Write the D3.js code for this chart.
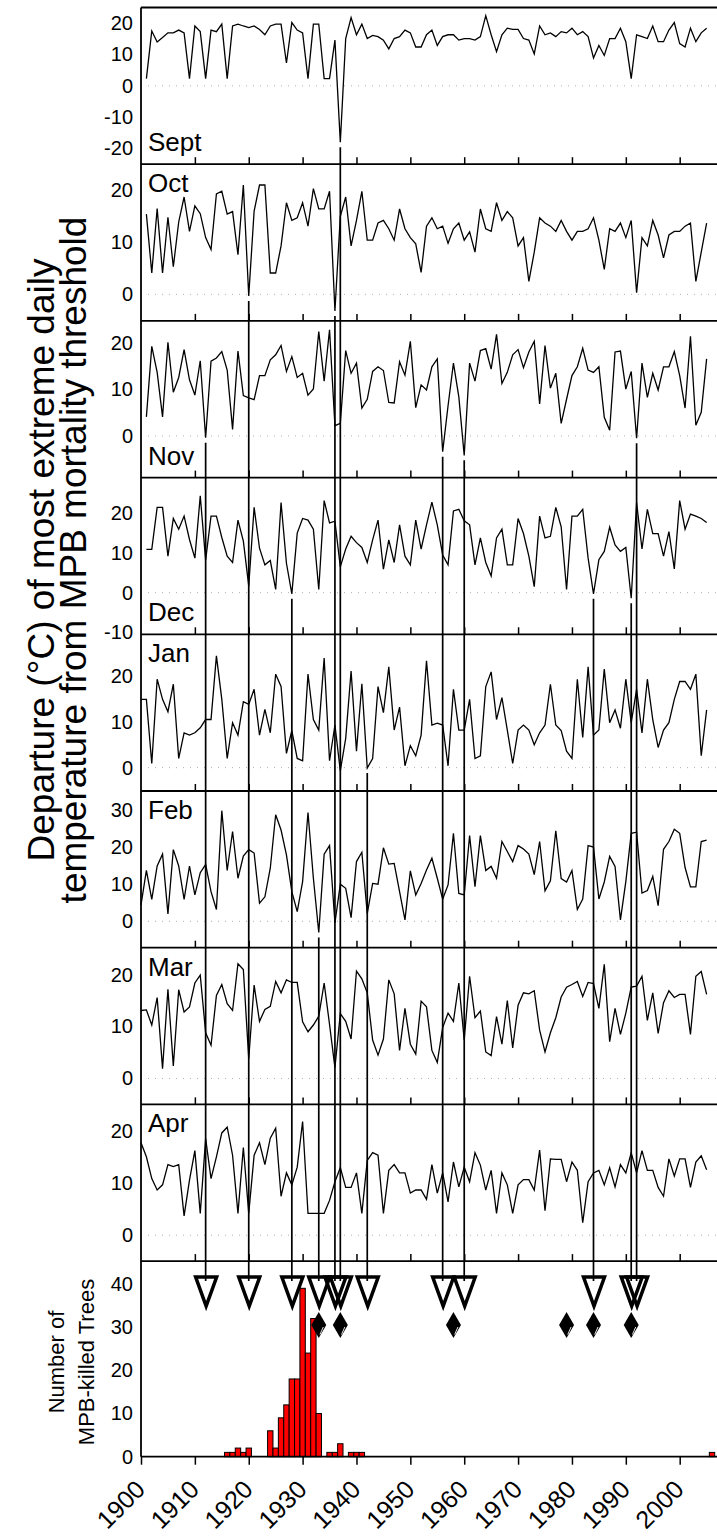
<!DOCTYPE html>
<html>
<head>
<meta charset="utf-8">
<script src="https://cdn.jsdelivr.net/npm/d3@7"></script>
<style>
  body { margin: 0; background: #fff; }
  text { font-family: "Liberation Sans", Arial, sans-serif; fill: #000; }
</style>
</head>
<body>
<div id="chart"></div>
<script>
// Monthly departures (deg C) of the most extreme daily temperature from the MPB mortality threshold
// Sept-Dec run 1901-2005, Jan-Apr run 1900-2005
const sept = [2.3,17.5,14,15.4,16.9,16.9,17.8,16.9,2.3,19.1, 17.3,2.3,17.8,17.3,19.7,2.3,19.1,19.7,19.1,18.6,
  19.1,18,16.3,19.1,19.7,19.7,7.3,20.2,17.8,16.9, 2.3,19.7,19.7,2.3,2.3,14.6,-18,15.1,21.8,16.3,
  19.7,15.1,16.1,15.7,14.6,11.8,15.1,15.7,17.8,16.9, 12.4,12.4,16.3,17.8,12.9,15.7,16.3,16.3,14.6,15.1,
  15.1,14.6,15.7,22.4,16.3,10.9,16.3,18.4,18,18, 15.1,14.6,10.2,19.1,16.3,16.9,15.7,17.3,16.9,18.4,
  16.3,17.3,15.7,8.9,12.9,9.7,15.1,15.1,18.4,14.1, 2.3,16.3,15.7,15.1,19.1,14.1,14.1,17.8,20.2,13.5,
  12.4,18.4,14.1,16.9,18.4];
const oct = [15.4,4.1,16.5,4.1,14.8,5.3,13.9,18.7,12.1,17, 15.5,10.9,8.6,19.3,19.8,15.4,15.9,7.6,21,-0.3,
  16,21,21,4.1,4.1,9.3,17.6,14.2,14.7,17.6, 13.1,20.3,16.4,16.4,19.8,-3.2,15,18.7,9.3,14.2,
  19.8,10.4,10.4,13.7,14.2,12.6,10.4,16.4,12.6,10.9, 9.7,4.2,13.1,14.7,12.6,13.1,9.8,12.6,13.7,10.4,
  12,8.1,16.4,12.6,12.1,17.6,14.2,15.9,14.7,9.3, 10.9,2.5,8.1,14.7,13.7,13.1,12.1,14.2,12.1,10.4,
  12.1,12.1,12.6,14.7,10.4,4.8,12.6,12.1,13.7,10.9, 14.2,0.3,10.9,9.3,14.2,11.4,7,11.4,12.1,12.1,
  13.1,13.7,2.5,8.1,13.7];
const nov = [4.1,19.3,13.7,4.1,20.2,9.4,12.6,18.6,12.1,8.8, 16.2,-0.4,16.1,16.8,18.2,14.2,1.4,18.3,8.7,8.2,
  7.8,13,13,16.4,17.5,19.5,13.9,17.1,12.6,13.5, 8.8,10.1,22.5,11.8,22.9,2.2,2.7,18.4,13.5,15.7,
  6,7.9,13.9,14.9,14.1,7.2,7.1,16,13.1,20.4, 6.1,11,9.9,14.9,16.6,-3.4,6.5,15.7,8.4,-4.2,
  15.7,11.8,18.4,18.8,14.4,21.9,11.3,13.7,17.5,18.6, 14.7,18.1,20.4,6.9,19.5,10.3,13.5,2.7,7.9,13,
  14.9,18.9,14.2,13.7,14.9,4,1.2,18.1,18.3,10.1, 13.9,-0.5,15.7,8.3,13.5,9.9,14.9,14.9,18.2,13,
  6,21.5,2.3,5.1,16.6];
const dec = [10.9,10.9,21.5,21.5,9.2,18.7,16,19.3,13.4,8.7, 24.4,8.2,19.3,19.3,13.9,9.2,7.6,18.3,13,1.7,
  21.5,11.2,7,8.1,0.8,22.7,7.4,-0.3,15,18.7, 18.3,16,0.8,23.2,17.6,18,6.5,11,14.2,12.6,
  11.4,7.6,13.3,18.3,5.9,13.3,7.6,17.1,9.2,7, 18.3,11,17.1,22.8,17.1,9.5,7,20.6,21,18.1,
  17.1,7,13.8,7.6,4.2,13.8,16,7,7,18.7, 14.9,9.2,1.5,19.3,13.8,14.2,21.5,16.6,0.8,19.3,
  19.3,21,8.7,-0.3,8.3,10.4,16.5,12,10.4,11.4, -1.4,22.7,11,21,14.9,14.9,9.2,15.4,6,23.2,
  16,19.8,19.3,18.7,17.7];
const jan = [14.9,14.9,0.9,19.3,14.9,12.2,18.2,2,7.6,7.1, 7.6,8.7,10.5,10.5,24.4,14.9,2,9.8,7.1,14.4,
  13.8,17.1,7.1,12.7,7.6,20.4,17.7,3.1,8.1,2, 1.5,20.4,10.5,8.2,23.9,1.5,9.3,-0.7,6.4,21.1,
  3.6,18.3,-0.1,2,17.7,12,22,8.2,13.2,0.4, 4.8,2.6,7.1,23.3,9.3,9.7,9.3,0.4,17.1,8.2,
  8.2,14.9,2,2.6,17.7,20.9,10.5,15.3,8.2,0.9, 8.2,9.3,8.2,5,7.6,9.3,18.2,9.3,8.1,3.6,
  2,19.3,6.6,22,7.1,8.2,21.5,9.8,12.6,8.6, 19.3,9.8,17.1,7.6,19.3,10.5,4.4,8.2,9.8,14.9,
  18.8,18.8,17.1,20.4,2.6,12.6];
const feb = [4.4,13.7,5.9,14.9,18.1,2,19.3,14.9,5.9,14.9, 7.1,13.1,15.3,8,3.2,29.8,13.7,24.2,11.6,17.6,
  19.3,18.4,4.9,6.6,14.3,28.7,24.6,17.9,8,2.6, 10.7,29.3,11.6,-3,18.1,20.4,-0.4,10,8.9,1,
  16.1,18.6,2.1,10.2,10,19.8,15.4,15.6,8,0.4, 13.6,7.1,10.2,13.8,17,11.6,6,9.8,23.7,7.5,
  7.1,23.1,9.3,23.1,13.7,14.8,11.6,21.5,18.8,16.1, 20.4,19.5,18.1,12.6,21.5,8.2,10.9,24.4,11.5,10.6,
  13.7,3.2,6,20.4,20,6,10.6,17.5,14.8,0.4, 10.7,23.7,24,7.6,8.3,12.1,4.2,19.4,21.5,24.8,
  23.7,14.5,9.3,9.3,21.5,21.9];
const mar = [13.1,13.2,10.3,15.6,1.9,17.2,2.4,17.1,12.8,13.8, 18.4,19.9,8.8,6.4,16,18.1,14.4,13.1,22.1,21,
  3.8,18,11,13.3,13.9,18.7,16.5,19,18.5,18.5, 10.9,9,10.3,12,18.4,10.4,2.1,12.5,11,7.6,
  20.7,19.2,16.5,7.4,4.5,7.6,19,16.3,5.4,13.5, 6.6,4.7,14.9,13.8,5.4,3.1,9.8,12.6,11,18.4,
  7.4,19.7,11.7,13,5.1,4.4,11.9,6.6,15,5.9, 14.1,16.5,16.3,16.9,9.3,5.1,8.8,11.7,15.7,17.6,
  18.1,18.7,15.8,18.5,18.3,13.5,22,7.1,13.5,8.5, 12.6,17.6,17.8,19.7,11.2,16.5,8.7,14.6,16.9,15.6,
  16.2,16.2,8.5,19.7,20.6,16.2];
const apr = [17.8,15.1,10.9,8.7,9.7,13.6,13.2,13.6,3.7,10.6, 16.3,4.2,18.6,10.9,15.1,19.7,20.8,15.4,4.2,16.9,
  4.2,15.4,17.8,13.6,18.7,20.6,7.5,12,9.7,13.1, 21.9,4.2,4.2,4.2,4.2,6.7,10.3,13,9.2,9.2,
  12,4.2,14.4,15.9,15.4,4.2,12.5,13.6,12,12, 8.1,8.7,8.7,6.9,13.6,8.1,12,6.4,14.1,9.3,
  13.1,10.3,15.9,13.5,8.7,12.5,4.2,12,9.7,4.2, 9.7,10.7,10.7,8.7,16.4,4.7,14.7,14.6,14.6,10.3,
  14.1,12.5,2.4,10.3,12,12.5,9.7,13,9.3,13.6, 12,15.9,12,16.3,12.5,12.5,9.2,7.5,14.7,11.4,
  14.7,14.7,9.2,14.1,15.3,12.6];

const monthNames = ["Sept", "Oct", "Nov", "Dec", "Jan", "Feb", "Mar", "Apr"];
const startYears = [1901, 1901, 1901, 1901, 1900, 1900, 1900, 1900];

// Cold events: year and the month whose minimum triggers the drop line
const eventYears  = [1912, 1920, 1928, 1933, 1936, 1937, 1942, 1956, 1960, 1984, 1991, 1992];
const eventMonths = ["Nov", "Oct", "Dec", "Feb", "Oct", "Sept", "Jan", "Nov", "Nov", "Dec", "Dec", "Nov"];
const diamondYears = [1933, 1937, 1958, 1979, 1984, 1991];

// MPB-killed trees per year
const killYears  = [1916,1917,1918,1919,1920,1924,1925,1926,1927,1928,1929,1930,1931,1932,1933,1935,1936,1937,1939,1940,1941,2006];
const killCounts = [1,1,2,1,2,6,2,9,12,18,18,39,24,32,10,1,1,3,1,1,1,1];

const decadeTicks = [1900,1910,1920,1930,1940,1950,1960,1970,1980,1990,2000];

// panel settings (y domains per month)
const series = [sept, oct, nov, dec, jan, feb, mar, apr];
const domains = [[-25,25],[-5.1,25],[-9,24.8],[-10.5,29],[-5.1,29.1],[-7.1,35.1],[-5,25.2],[-5,25.2]];
const yTicks = [[-20,-10,0,10,20],[0,10,20],[0,10,20],[-10,0,10,20],[0,10,20],[0,10,20,30],[0,10,20],[0,10,20]];
const labelPos = ["bottom","top","bottom","bottom","top","top","top","top"];

var width = 717, height = 1539;
var left = 141, top0 = 7.5, panelH = 156.7;
var barTop = top0 + 8 * panelH, barBottom = 1456.7;

var x = d3.scaleLinear().domain([1900, 2007]).range([left, 717.4]);

var svg = d3.select("#chart").append("svg")
    .attr("width", width)
    .attr("height", height);

var yScales = {};

series.forEach(function(vals, i) {
    var t = top0 + i * panelH;
    var y = d3.scaleLinear().domain(domains[i]).range([t + panelH, t]);
    yScales[monthNames[i]] = y;
    var g = svg.append("g").attr("class", "panel");

    // dotted zero line
    g.append("line")
        .attr("x1", left).attr("x2", width)
        .attr("y1", y(0)).attr("y2", y(0))
        .attr("stroke", "#b0b0b0").attr("stroke-width", 1)
        .attr("stroke-dasharray", "1,6");

    var pts = vals.map(function(v, k) { return [startYears[i] + k, v]; });
    g.append("path")
        .datum(pts)
        .attr("fill", "none")
        .attr("stroke", "#000")
        .attr("stroke-width", 1.3)
        .attr("d", d3.line().x(function(d) { return x(d[0]); }).y(function(d) { return y(d[1]); }));

    // y axis labels
    var ya = g.append("g")
        .attr("transform", "translate(" + left + ",0)")
        .call(d3.axisLeft(y).tickValues(yTicks[i]).tickSize(0).tickPadding(8).tickFormat(function(d) { return String(d); }));
    ya.select(".domain").remove();
    ya.selectAll("text").style("font-size", "20px").attr("font-family", null);

    // inward ticks along the panel bottom
    var xa = g.append("g")
        .attr("transform", "translate(0," + (t + panelH) + ")")
        .call(d3.axisTop(x).tickValues(decadeTicks.slice(1)).tickSize(7).tickFormat(""));
    xa.select(".domain").remove();
    xa.selectAll("line").attr("stroke-width", 1.5);

    // panel top border
    g.append("line")
        .attr("x1", left).attr("x2", width + 2)
        .attr("y1", t).attr("y2", t)
        .attr("stroke", "#000").attr("stroke-width", 1.8);

    g.append("text")
        .attr("x", 148)
        .attr("y", labelPos[i] == "top" ? t + 28 : t + panelH - 13)
        .style("font-size", "26px")
        .text(monthNames[i]);
});

// border between Apr and bar panel
svg.append("line")
    .attr("x1", left).attr("x2", width + 2)
    .attr("y1", barTop).attr("y2", barTop)
    .attr("stroke", "#000").attr("stroke-width", 1.8);

// bar panel
var yb = d3.scaleLinear().domain([0, 45.3]).range([barBottom, barTop]);
var bw = x(1901) - x(1900);

svg.selectAll(".bar")
    .data(killYears)
  .enter().append("rect")
    .attr("class", "bar")
    .attr("x", function(d) { return x(d - 0.5); })
    .attr("width", bw)
    .attr("y", function(d, i) { return yb(killCounts[i]); })
    .attr("height", function(d, i) { return barBottom - yb(killCounts[i]); })
    .attr("fill", "#ff0000")
    .attr("stroke", "#000")
    .attr("stroke-width", 1);

var yba = svg.append("g")
    .attr("transform", "translate(" + left + ",0)")
    .call(d3.axisLeft(yb).tickValues([0,10,20,30,40]).tickSize(0).tickPadding(8));
yba.select(".domain").remove();
yba.selectAll("text").style("font-size", "20px").attr("font-family", null);

var xba = svg.append("g")
    .attr("transform", "translate(0," + barBottom + ")")
    .call(d3.axisBottom(x).tickValues(decadeTicks).tickSize(8).tickFormat(d3.format("d")));
xba.select(".domain").remove();
xba.selectAll("line").attr("stroke-width", 1.5);
xba.selectAll("text")
    .attr("y", null).attr("dy", "0.35em")
    .attr("text-anchor", "end")
    .attr("transform", "translate(-1,28) rotate(-45)")
    .attr("font-family", null)
    .style("font-size", "25px");

// bottom axis line
svg.append("line")
    .attr("x1", left).attr("x2", width + 2)
    .attr("y1", barBottom).attr("y2", barBottom)
    .attr("stroke", "#000").attr("stroke-width", 1.8);

// left axis line
svg.append("line")
    .attr("x1", left).attr("x2", left)
    .attr("y1", top0).attr("y2", barBottom)
    .attr("stroke", "#000").attr("stroke-width", 1.8);

// drop lines from each cold minimum to the triangle
var triTop = 1277, triBot = 1306, triHalf = 10.5;
eventYears.forEach(function(yr, i) {
    var m = eventMonths[i];
    var k = monthNames.indexOf(m);
    var v = series[k][yr - startYears[k]];
    svg.append("line")
        .attr("x1", x(yr)).attr("x2", x(yr))
        .attr("y1", yScales[m](v) + 5).attr("y2", triTop + 4)
        .attr("stroke", "#000").attr("stroke-width", 1.7);
});

svg.selectAll(".tri")
    .data(eventYears)
  .enter().append("path")
    .attr("class", "tri")
    .attr("d", function(d) {
        var cx = x(d) + 0.5;
        return "M" + (cx - triHalf) + "," + triTop + "L" + (cx + triHalf) + "," + triTop + "L" + cx + "," + triBot + "Z";
    })
    .attr("fill", "none")
    .attr("stroke", "#000")
    .attr("stroke-width", 3.5);

// diamonds
var dg = svg.selectAll(".dia")
    .data(diamondYears)
  .enter().append("g")
    .attr("class", "dia")
    .attr("transform", function(d) { return "translate(" + x(d) + ",1325)"; });
dg.append("path")
    .attr("d", "M0,-13L7.5,0L0,13L-7.5,0Z")
    .attr("fill", "#000");
dg.append("line")
    .attr("x1", 4.5).attr("y1", 2).attr("x2", 1.2).attr("y2", 9.5)
    .attr("stroke", "#fff").attr("stroke-width", 0.9);

// axis titles
svg.append("text")
    .attr("transform", "translate(41,560) rotate(-90)")
    .attr("text-anchor", "middle").attr("dy", "0.35em")
    .style("font-size", "37px")
    .text("Departure (\u00B0C) of most extreme daily");
svg.append("text")
    .attr("transform", "translate(73,560) rotate(-90)")
    .attr("text-anchor", "middle").attr("dy", "0.35em")
    .style("font-size", "37px")
    .text("temperature from MPB mortality threshold");

svg.append("text")
    .attr("transform", "translate(56,1362) rotate(-90)")
    .attr("text-anchor", "middle").attr("dy", "0.35em")
    .style("font-size", "22px")
    .text("Number of");
svg.append("text")
    .attr("transform", "translate(86,1362) rotate(-90)")
    .attr("text-anchor", "middle").attr("dy", "0.35em")
    .style("font-size", "22px")
    .text("MPB-killed Trees");
</script>
</body>
</html>
